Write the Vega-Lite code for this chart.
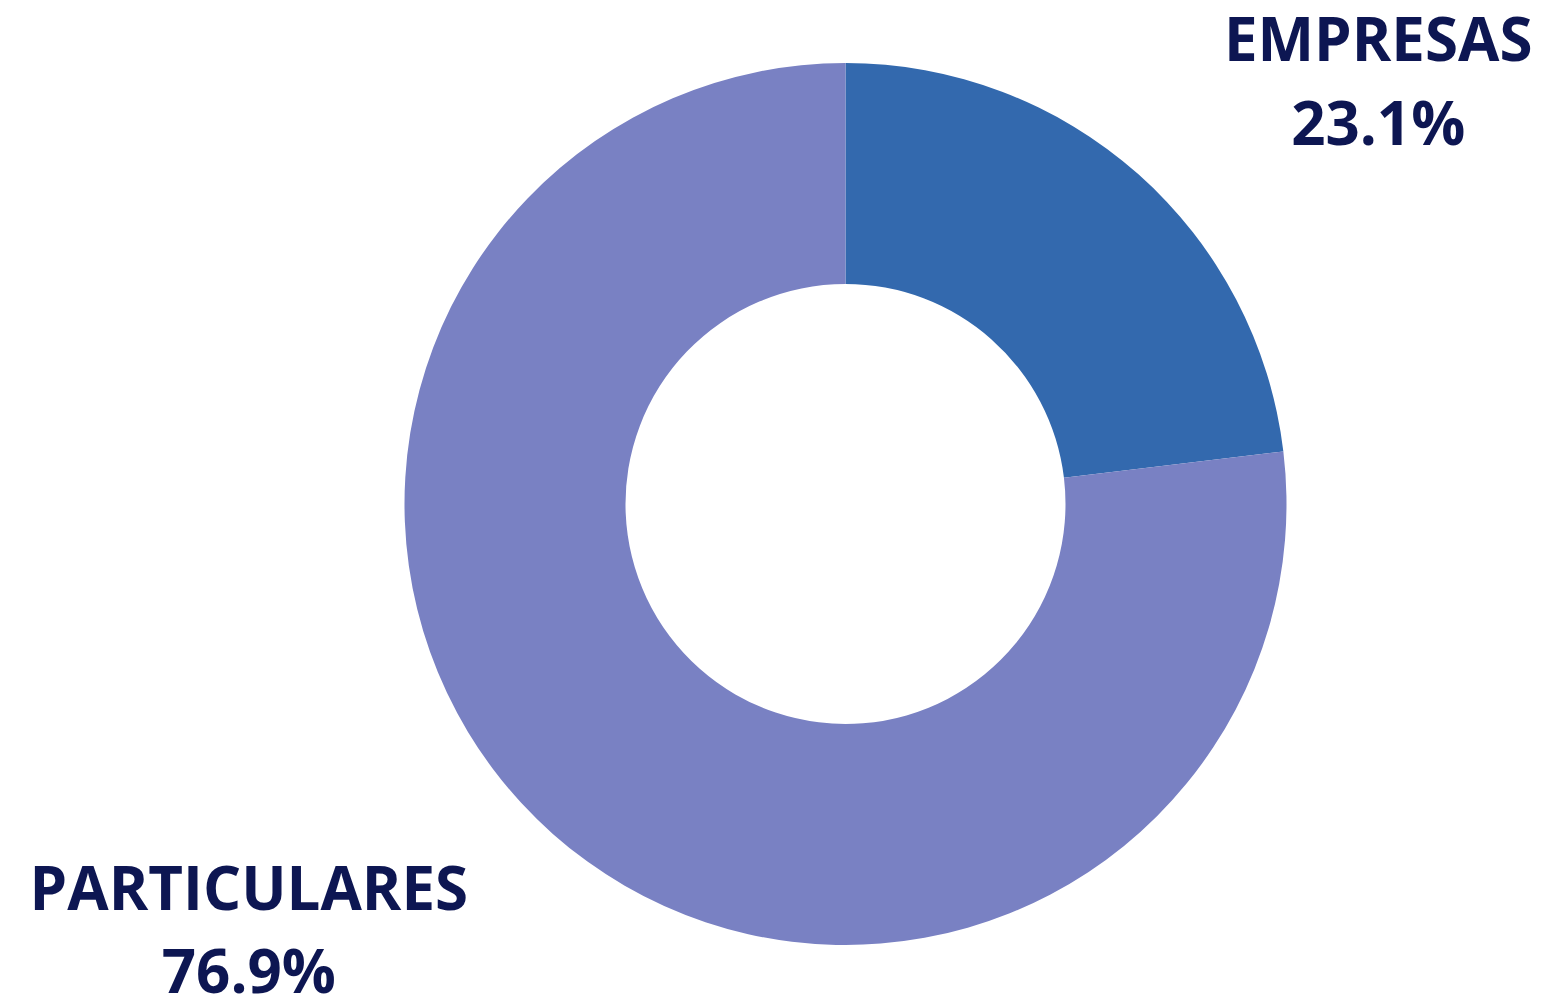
{
  "$schema": "https://vega.github.io/schema/vega-lite/v6.json",
  "width": 1391,
  "height": 994,
  "padding": {"left": 150, "top": 7, "right": 0, "bottom": 0},
  "autosize": "none",
  "background": "white",
  "data": {"values": [
    {"segmento": "EMPRESAS", "share": 0.231, "orden": 1},
    {"segmento": "PARTICULARES", "share": 0.769, "orden": 2}
  ]},
  "encoding": {
    "theta": {"field": "share", "type": "quantitative", "stack": true},
    "order": {"field": "orden", "type": "quantitative"}
  },
  "layer": [
    {
      "mark": {"type": "arc", "outerRadius": 441, "innerRadius": 220},
      "encoding": {
        "color": {"field": "segmento", "type": "nominal", "legend": null,
          "scale": {"domain": ["EMPRESAS", "PARTICULARES"], "range": ["#3369ae", "#7981c3"]}}
      }
    },
    {
      "mark": {"type": "text", "radius": 441, "dx": 240, "dy": -113, "font": "Open Sans", "fontWeight": "bold", "fontSize": 60, "letterSpacing": 3, "fill": "#0d1652", "align": "center", "baseline": "alphabetic"},
      "encoding": {"text": {"condition": {"test": "datum.segmento === 'EMPRESAS'", "field": "segmento"}, "value": ""}}
    },
    {
      "mark": {"type": "text", "radius": 441, "dx": 240, "dy": -29, "font": "Open Sans", "fontWeight": "bold", "fontSize": 60, "letterSpacing": 3, "fill": "#0d1652", "align": "center", "baseline": "alphabetic"},
      "encoding": {"text": {"condition": {"test": "datum.segmento === 'EMPRESAS'", "field": "share", "type": "quantitative", "format": ".1%"}, "value": ""}}
    },
    {
      "mark": {"type": "text", "radius": 441, "dx": -304, "dy": 76, "font": "Open Sans", "fontWeight": "bold", "fontSize": 60, "letterSpacing": 3, "fill": "#0d1652", "align": "center", "baseline": "alphabetic"},
      "encoding": {"text": {"condition": {"test": "datum.segmento === 'PARTICULARES'", "field": "segmento"}, "value": ""}}
    },
    {
      "mark": {"type": "text", "radius": 441, "dx": -304, "dy": 159, "font": "Open Sans", "fontWeight": "bold", "fontSize": 60, "letterSpacing": 3, "fill": "#0d1652", "align": "center", "baseline": "alphabetic"},
      "encoding": {"text": {"condition": {"test": "datum.segmento === 'PARTICULARES'", "field": "share", "type": "quantitative", "format": ".1%"}, "value": ""}}
    }
  ]
}
